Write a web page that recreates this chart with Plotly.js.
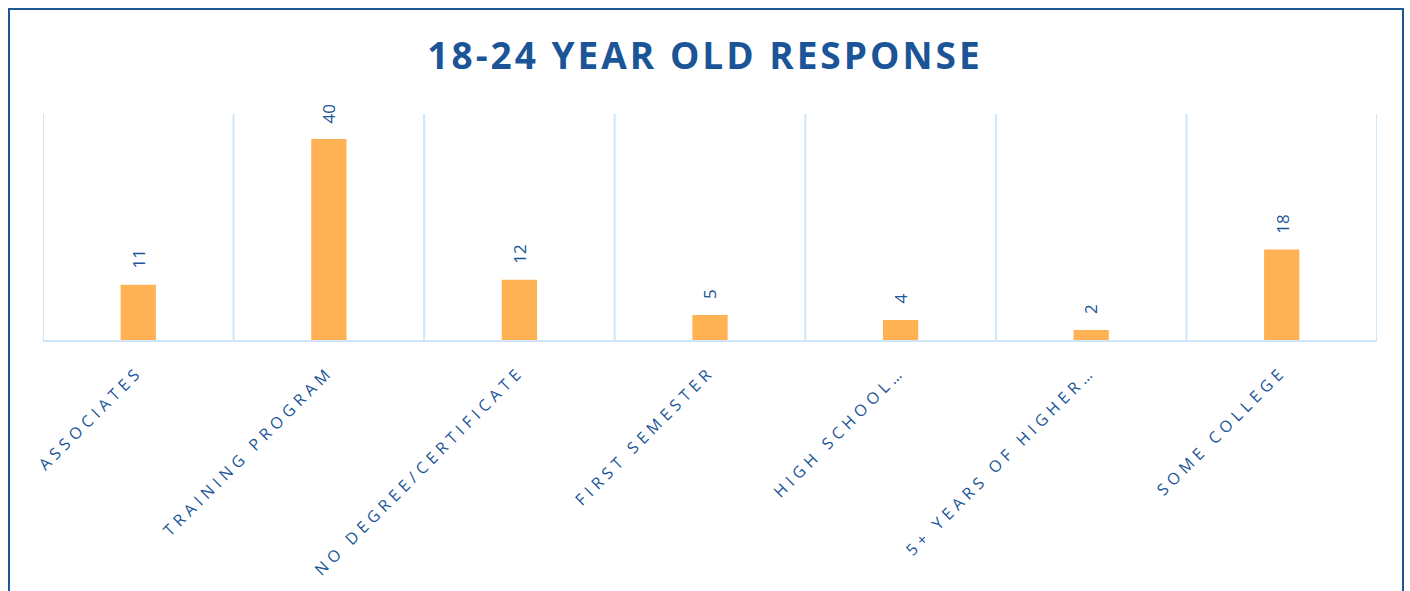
<!DOCTYPE html>
<html>
<head>
<meta charset="utf-8">
<script src="https://cdn.plot.ly/plotly-3.0.1.min.js"></script>
<style>
  html, body { margin: 0; padding: 0; background: #fff; overflow: hidden; }
  #frame { position: absolute; left: 8px; top: 8px; width: 1392px; height: 640px; border: 2px solid #1F5591; pointer-events: none; z-index: 5; }
  #chart { position: absolute; left: 0; top: 0; width: 1410px; height: 591px; }
  #chart .xtick text { letter-spacing: 4.8px; }
  #chart .gtitle { letter-spacing: 3px; }
</style>
</head>
<body>
<div id="chart"></div>
<div id="frame"></div>
<script>
const categories = ["ASSOCIATES", "TRAINING PROGRAM", "NO DEGREE/CERTIFICATE", "FIRST SEMESTER", "HIGH SCHOOL…", "5+ YEARS OF HIGHER…", "SOME COLLEGE"];
const values = [11, 40, 12, 5, 4, 2, 18];
const chartTitle = "18-24 YEAR OLD RESPONSE";

const blue = "#1B5597";
const gridBlue = "#CFE6FA";

const shapes = [];
for (let i = 0; i <= categories.length; i++) {
  shapes.push({type: "line", xref: "x", yref: "paper", x0: i - 0.5, x1: i - 0.5, y0: 0, y1: 1,
    line: {color: gridBlue, width: 2}, layer: "below"});
}

const annotations = values.map((v, i) => ({
  x: categories[i], y: v, xref: "x", yref: "y", text: String(v), showarrow: false,
  textangle: -90, yanchor: "bottom", xanchor: "center", yshift: 14,
  font: {family: "Open Sans, sans-serif", size: 17, color: blue}
}));

const trace = {
  type: "bar", x: categories, y: values,
  marker: {color: "#FFB253"},
  hoverinfo: "skip"
};

const layout = {
  width: 1410, height: 591,
  margin: {l: 43, r: 33, t: 114, b: 251},
  paper_bgcolor: "#fff", plot_bgcolor: "#fff",
  title: {text: "<b>" + chartTitle + "</b>", x: 0.5, xanchor: "center", y: 0.905, yanchor: "middle",
    font: {family: "Open Sans, sans-serif", size: 37, color: blue}},
  bargap: 0.815,
  showlegend: false,
  xaxis: {type: "category", tickangle: -45, showgrid: false, zeroline: false,
    showline: true, linecolor: gridBlue, linewidth: 2, ticks: "", ticklen: 0,
    ticklabelstandoff: 14,
    tickfont: {family: "Open Sans, sans-serif", size: 16, color: blue},
    range: [-0.5, categories.length - 0.5], automargin: false},
  yaxis: {range: [0, 45], showgrid: false, zeroline: false, showticklabels: false, showline: false, ticks: ""},
  shapes: shapes,
  annotations: annotations
};

Plotly.newPlot("chart", [trace], layout, {displayModeBar: false, staticPlot: true});
</script>
</body>
</html>
